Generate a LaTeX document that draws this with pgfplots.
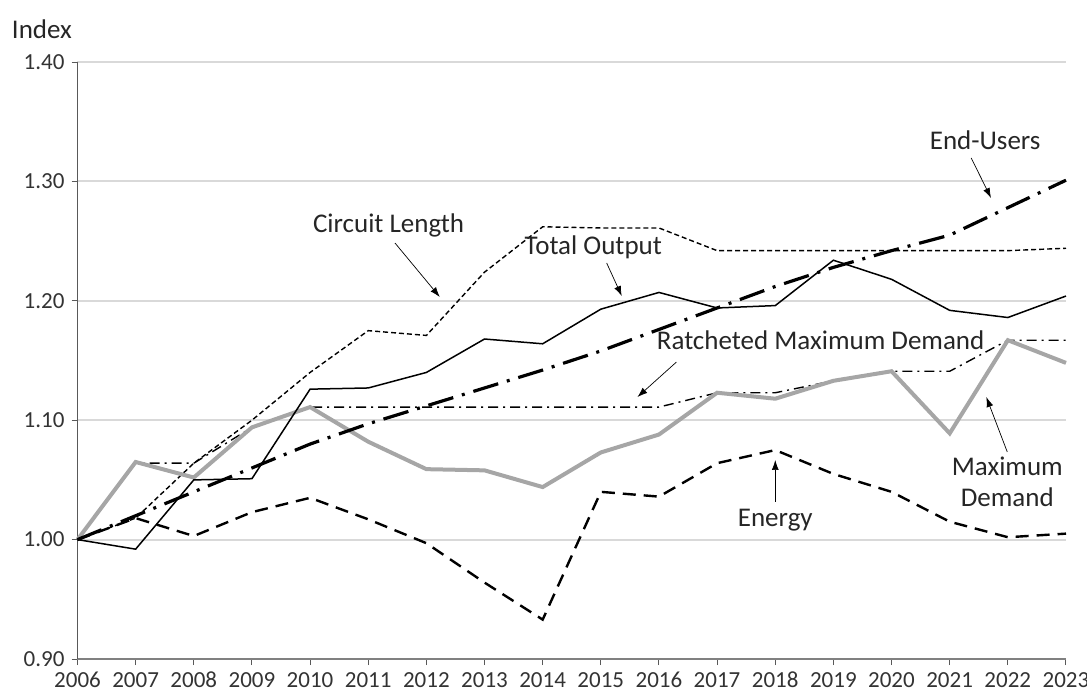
\documentclass[border=0pt]{standalone}
\usepackage{pgfplots}
\pgfplotsset{compat=1.18}
\usepackage{fontspec}
\setmainfont{Carlito}
\usetikzlibrary{arrows.meta}
\definecolor{gridgray}{HTML}{D9D9D9}
\definecolor{mdgray}{HTML}{A6A6A6}
\begin{document}
\begin{tikzpicture}
\begin{axis}[
  scale only axis,
  width=494.25pt, height=298.5pt,
  xmin=2006, xmax=2023, ymin=0.90, ymax=1.40,
  xtick={2006,2007,...,2023},
  ytick={0.9,1.0,1.1,1.2,1.3,1.4},
  xticklabel style={/pgf/number format/1000 sep={}},
  yticklabel style={/pgf/number format/fixed,/pgf/number format/fixed zerofill,/pgf/number format/precision=2},
  /pgf/number format/assume math mode=true,
  ticklabel style={font=\fontsize{11.5}{13}\selectfont, color=black!80},
  ymajorgrids, grid style={gridgray, line width=1pt},
  axis x line*=bottom, axis y line*=left,
  x axis line style={black!50, line width=0.7pt},
  y axis line style={black!65, line width=0.6pt},
  tick style={black!65, line width=0.5pt},
  tick align=outside, major tick length=3pt,
  axis line style={-},
  clip=false,
]
% Circuit Length
\addplot[black, line width=0.7pt, dash pattern=on 2.5pt off 1.5pt] coordinates {
(2006,1.000)(2007,1.018)(2008,1.064)(2009,1.100)(2010,1.140)(2011,1.175)(2012,1.171)(2013,1.224)(2014,1.262)(2015,1.261)(2016,1.261)(2017,1.242)(2018,1.242)(2019,1.242)(2020,1.242)(2021,1.242)(2022,1.242)(2023,1.244)};
% Ratcheted Maximum Demand
\addplot[black, line width=0.7pt, dash pattern=on 5pt off 2.5pt on 1pt off 2.5pt] coordinates {
(2006,1.000)(2007,1.064)(2008,1.064)(2009,1.094)(2010,1.111)(2011,1.111)(2012,1.111)(2013,1.111)(2014,1.111)(2015,1.111)(2016,1.111)(2017,1.123)(2018,1.123)(2019,1.133)(2020,1.141)(2021,1.141)(2022,1.167)(2023,1.167)};
% Maximum Demand
\addplot[mdgray, line width=2pt] coordinates {
(2006,1.000)(2007,1.065)(2008,1.052)(2009,1.094)(2010,1.111)(2011,1.082)(2012,1.059)(2013,1.058)(2014,1.044)(2015,1.073)(2016,1.088)(2017,1.123)(2018,1.118)(2019,1.133)(2020,1.141)(2021,1.089)(2022,1.167)(2023,1.148)};
% Energy
\addplot[black, line width=1.2pt, dash pattern=on 6.5pt off 4pt] coordinates {
(2006,1.000)(2007,1.018)(2008,1.003)(2009,1.023)(2010,1.035)(2011,1.017)(2012,0.997)(2013,0.964)(2014,0.933)(2015,1.040)(2016,1.036)(2017,1.064)(2018,1.075)(2019,1.055)(2020,1.040)(2021,1.015)(2022,1.002)(2023,1.005)};
% Total Output
\addplot[black, line width=0.75pt] coordinates {
(2006,1.000)(2007,0.992)(2008,1.050)(2009,1.051)(2010,1.126)(2011,1.127)(2012,1.140)(2013,1.168)(2014,1.164)(2015,1.193)(2016,1.207)(2017,1.194)(2018,1.196)(2019,1.234)(2020,1.218)(2021,1.192)(2022,1.186)(2023,1.204)};
% End-Users
\addplot[black, line width=1.6pt, dash pattern=on 13pt off 4.5pt on 1.5pt off 4.5pt] coordinates {
(2006,1.000)(2007,1.020)(2008,1.040)(2009,1.060)(2010,1.080)(2011,1.097)(2012,1.112)(2013,1.127)(2014,1.142)(2015,1.158)(2016,1.176)(2017,1.194)(2018,1.212)(2019,1.228)(2020,1.242)(2021,1.255)(2022,1.278)(2023,1.301)};

\tikzset{lab/.style={font=\fontsize{13.5}{15}\selectfont, text=black!85, inner sep=0pt},
         arr/.style={-{Latex[length=5pt,width=3.5pt]}, black, line width=0.35pt}}
\node[lab] at (axis cs:2011.35,1.2635) {Circuit Length};
\draw[arr] (axis cs:2011.46,1.2484) -- (axis cs:2012.23,1.2032);
\node[lab] at (axis cs:2014.87,1.245) {Total Output};
\draw[arr] (axis cs:2015.10,1.2317) -- (axis cs:2015.36,1.2040);
\node[lab] at (axis cs:2021.61,1.3347) {End-Users};
\draw[arr] (axis cs:2021.37,1.3196) -- (axis cs:2021.71,1.2861);
\node[lab] at (axis cs:2018.78,1.167) {Ratcheted Maximum Demand};
\draw[arr] (axis cs:2016.30,1.1487) -- (axis cs:2015.63,1.1194);
\node[lab] at (axis cs:2021.99,1.0616) {Maximum};
\node[lab] at (axis cs:2021.99,1.0357) {Demand};
\draw[arr] (axis cs:2021.99,1.0734) -- (axis cs:2021.63,1.1194);
\node[lab] at (axis cs:2018.0,1.0164) {Energy};
\draw[arr] (axis cs:2018.0,1.0315) -- (axis cs:2018.0,1.0667);
\node[lab] at (rel axis cs:-0.036,1.055) {Index};
\end{axis}
\pgfresetboundingbox
\path[use as bounding box] (-38.75pt,-17pt) rectangle ++(543.5pt,346.5pt);
\end{tikzpicture}
\end{document}
